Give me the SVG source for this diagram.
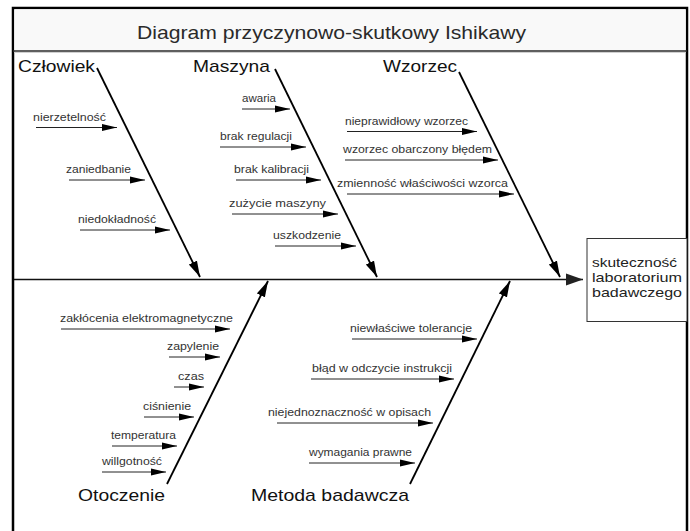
<svg xmlns="http://www.w3.org/2000/svg" width="690" height="531" viewBox="0 0 690 531">
<style>
  .frame{fill:#fff;stroke:#000;stroke-width:2.5}
  .band{fill:#f9f9f9;stroke:none}
  .sep{stroke:#2a2a2a;stroke-width:1.5}
  .title{font-family:"Liberation Sans",Arial,sans-serif;font-size:18.5px;fill:#2a2a2a}
  .cat{font-family:"Liberation Sans",Arial,sans-serif;font-size:17px;fill:#111}
  .lbl{font-family:"Liberation Sans",Arial,sans-serif;font-size:11px;fill:#333}
  .eff{font-family:"Liberation Sans",Arial,sans-serif;font-size:13px;fill:#222}
  .box{fill:#fff;stroke:#333;stroke-width:1}
  .small{stroke:#222;stroke-width:1;fill:none;marker-end:url(#sm)}
  .bone{stroke:#000;stroke-width:1.8;fill:none;marker-end:url(#bn)}
  .spine{stroke:#111;stroke-width:1.6;fill:none;marker-end:url(#sp)}
</style>
<defs>
  <marker id="sm" markerUnits="userSpaceOnUse" markerWidth="15" markerHeight="8" viewBox="0 0 15 8" refX="15" refY="4" orient="auto">
    <path d="M0,0.6 L15,4 L0,7.4 Z" fill="#000"/>
  </marker>
  <marker id="bn" markerUnits="userSpaceOnUse" markerWidth="16" markerHeight="10" viewBox="0 0 16 10" refX="16" refY="5" orient="auto">
    <path d="M0,0.5 L16,5 L0,9.5 Z" fill="#000"/>
  </marker>
  <marker id="sp" markerUnits="userSpaceOnUse" markerWidth="17" markerHeight="13" viewBox="0 0 17 13" refX="17" refY="6.5" orient="auto">
    <path d="M0,0.5 L17,6.5 L0,12.5 Z" fill="#222"/>
  </marker>
</defs>

<rect class="frame" x="13" y="8" width="674" height="540"/>

<g id="title">
  <rect class="band" x="14.3" y="9.3" width="671.4" height="41.2"/>
  <line class="sep" x1="13" y1="51" x2="687" y2="51"/>
  <line x1="14" y1="52.5" x2="686" y2="52.5" stroke="#d0d0d0" stroke-width="1"/>
  <text class="title" x="137" y="39" textLength="389" lengthAdjust="spacingAndGlyphs">Diagram przyczynowo-skutkowy Ishikawy</text>
</g>

<g id="effect">
  <rect class="box" x="587" y="238.5" width="100" height="83"/>
  <text class="eff" x="592" y="267" textLength="85" lengthAdjust="spacingAndGlyphs">skuteczność</text>
  <text class="eff" x="592" y="282" textLength="90" lengthAdjust="spacingAndGlyphs">laboratorium</text>
  <text class="eff" x="592" y="297" textLength="90" lengthAdjust="spacingAndGlyphs">badawczego</text>
</g>

<g id="cat-czlowiek"><text class="cat" x="18" y="72" textLength="77" lengthAdjust="spacingAndGlyphs">Człowiek</text></g>
<g id="cat-maszyna"><text class="cat" x="193" y="72" textLength="77" lengthAdjust="spacingAndGlyphs">Maszyna</text></g>
<g id="cat-wzorzec"><text class="cat" x="383" y="72" textLength="74" lengthAdjust="spacingAndGlyphs">Wzorzec</text></g>
<g id="cat-otoczenie"><text class="cat" x="78" y="501" textLength="87" lengthAdjust="spacingAndGlyphs">Otoczenie</text></g>
<g id="cat-metoda"><text class="cat" x="251" y="501" textLength="158" lengthAdjust="spacingAndGlyphs">Metoda badawcza</text></g>

<g id="causes-czlowiek">
  <text class="lbl" x="33" y="121" textLength="73" lengthAdjust="spacingAndGlyphs">nierzetelność</text>
  <text class="lbl" x="66" y="173" textLength="65" lengthAdjust="spacingAndGlyphs">zaniedbanie</text>
  <text class="lbl" x="78" y="223" textLength="78" lengthAdjust="spacingAndGlyphs">niedokładność</text>
</g>
<g id="causes-maszyna">
  <text class="lbl" x="242" y="102" textLength="34" lengthAdjust="spacingAndGlyphs">awaria</text>
  <text class="lbl" x="220" y="140" textLength="72" lengthAdjust="spacingAndGlyphs">brak regulacji</text>
  <text class="lbl" x="234" y="173" textLength="75" lengthAdjust="spacingAndGlyphs">brak kalibracji</text>
  <text class="lbl" x="229" y="207" textLength="97" lengthAdjust="spacingAndGlyphs">zużycie maszyny</text>
  <text class="lbl" x="273" y="239" textLength="68" lengthAdjust="spacingAndGlyphs">uszkodzenie</text>
</g>
<g id="causes-wzorzec">
  <text class="lbl" x="345" y="125" textLength="123" lengthAdjust="spacingAndGlyphs">nieprawidłowy wzorzec</text>
  <text class="lbl" x="343" y="153" textLength="149" lengthAdjust="spacingAndGlyphs">wzorzec obarczony błędem</text>
  <text class="lbl" x="337" y="187" textLength="171" lengthAdjust="spacingAndGlyphs">zmienność właściwości wzorca</text>
</g>
<g id="causes-otoczenie">
  <text class="lbl" x="60" y="322" textLength="173" lengthAdjust="spacingAndGlyphs">zakłócenia elektromagnetyczne</text>
  <text class="lbl" x="167" y="350" textLength="52" lengthAdjust="spacingAndGlyphs">zapylenie</text>
  <text class="lbl" x="178" y="380" textLength="26" lengthAdjust="spacingAndGlyphs">czas</text>
  <text class="lbl" x="143" y="410" textLength="48" lengthAdjust="spacingAndGlyphs">ciśnienie</text>
  <text class="lbl" x="111" y="439" textLength="65" lengthAdjust="spacingAndGlyphs">temperatura</text>
  <text class="lbl" x="102" y="465" textLength="60" lengthAdjust="spacingAndGlyphs">willgotność</text>
</g>
<g id="causes-metoda">
  <text class="lbl" x="350" y="332" textLength="122" lengthAdjust="spacingAndGlyphs">niewłaściwe tolerancje</text>
  <text class="lbl" x="312" y="372" textLength="140" lengthAdjust="spacingAndGlyphs">błąd w odczycie instrukcji</text>
  <text class="lbl" x="268" y="416" textLength="163" lengthAdjust="spacingAndGlyphs">niejednoznaczność w opisach</text>
  <text class="lbl" x="309" y="456" textLength="103" lengthAdjust="spacingAndGlyphs">wymagania prawne</text>
</g>

<g id="connectors">
  <line class="spine" x1="14" y1="279.5" x2="583" y2="279.5"/>
  <line class="bone" x1="97" y1="68" x2="200" y2="277"/>
  <line class="bone" x1="275" y1="69" x2="377" y2="277"/>
  <line class="bone" x1="459" y1="72" x2="560" y2="277"/>
  <line class="bone" x1="167" y1="484" x2="268" y2="281"/>
  <line class="bone" x1="410" y1="484" x2="510" y2="281"/>

  <line class="small" x1="36" y1="127.5" x2="117" y2="127.5"/>
  <line class="small" x1="69" y1="180" x2="145" y2="180"/>
  <line class="small" x1="80" y1="230" x2="170" y2="230"/>

  <line class="small" x1="242" y1="109" x2="290" y2="109"/>
  <line class="small" x1="220" y1="147" x2="306" y2="147"/>
  <line class="small" x1="236" y1="180" x2="321" y2="180"/>
  <line class="small" x1="232" y1="214" x2="338" y2="214"/>
  <line class="small" x1="275" y1="246" x2="356" y2="246"/>

  <line class="small" x1="347" y1="131.5" x2="477" y2="131.5"/>
  <line class="small" x1="345" y1="160" x2="498" y2="160"/>
  <line class="small" x1="347" y1="194" x2="514" y2="194"/>

  <line class="small" x1="61" y1="329" x2="230" y2="329"/>
  <line class="small" x1="169" y1="357" x2="220" y2="357"/>
  <line class="small" x1="174" y1="387" x2="204" y2="387"/>
  <line class="small" x1="144" y1="417" x2="194" y2="417"/>
  <line class="small" x1="112" y1="446" x2="177" y2="446"/>
  <line class="small" x1="102" y1="472" x2="166" y2="472"/>

  <line class="small" x1="352" y1="339" x2="477" y2="339"/>
  <line class="small" x1="311" y1="379" x2="454" y2="379"/>
  <line class="small" x1="277" y1="423" x2="433" y2="423"/>
  <line class="small" x1="309" y1="463" x2="415" y2="463"/>
</g>
</svg>
